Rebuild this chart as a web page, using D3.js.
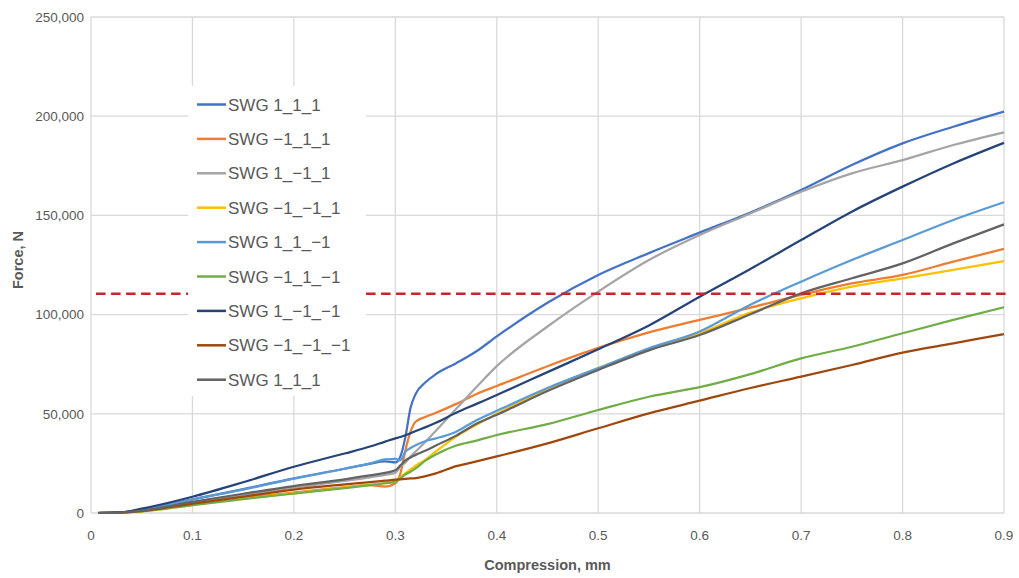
<!DOCTYPE html>
<meta charset="utf-8" />
<style>
  body { margin: 0; background: #fff; }
  svg { display: block; font-family: "Liberation Sans", Arial, sans-serif; }
  .grid line { stroke: #d9d9d9; stroke-width: 1.3px; }
  .tick-label { fill: #595959; font-size: 13.5px; }
  .axis-title { fill: #595959; font-size: 14.5px; font-weight: bold; }
  .legend text { fill: #595959; font-size: 17px; }
</style>
<body>
  <svg id="chart" width="1019" height="578"></svg>
</body>
<script src="https://d3js.org/d3.v7.min.js"></script>
<script>
  // compression values (mm) shared by every series
  const compression = [0.007, 0.03, 0.05, 0.1, 0.15, 0.2, 0.25, 0.275, 0.29, 0.3, 0.305, 0.31, 0.315, 0.32, 0.33, 0.34, 0.36, 0.38, 0.4, 0.45, 0.5, 0.55, 0.6, 0.65, 0.7, 0.75, 0.8, 0.85, 0.9];

  // force (N)
  const swg_1_1_1 = [0, 300, 1600, 6900, 12000, 17500, 22300, 24800, 26000, 25500, 28500, 38500, 53000, 60000, 66000, 70000, 75500, 81500, 89000, 106000, 120000, 131000, 141300, 151500, 162800, 175400, 186300, 194700, 202300];
  const swg_m1_1_1 = [0, 200, 1000, 4300, 7500, 10300, 13000, 14000, 13300, 15000, 20000, 31800, 41000, 46000, 48500, 50500, 55000, 60000, 64000, 74000, 83200, 91000, 97300, 103500, 109900, 115700, 120000, 126700, 133100];
  const swg_1_m1_1 = [0, 200, 1100, 5000, 8800, 12800, 16200, 18000, 19200, 20300, 23400, 25500, 28500, 31000, 36000, 41500, 52500, 63500, 74000, 94000, 111600, 127500, 140100, 151000, 161900, 171200, 177900, 185500, 191900];
  const swg_m1_m1_1 = [0, 150, 800, 4000, 7200, 10000, 12800, 14300, 15000, 15800, 18000, 20000, 22000, 23800, 27000, 31000, 38500, 44500, 50000, 62500, 73000, 82800, 90600, 101000, 108200, 114100, 118300, 122500, 127000];
  const swg_1_1_m1 = [0, 300, 1500, 6800, 11800, 17300, 22300, 25000, 27000, 27300, 26500, 31000, 32800, 34200, 36300, 37600, 41000, 46800, 51500, 63000, 73000, 83000, 91500, 105000, 116600, 127500, 137600, 147700, 156600];
  const swg_m1_1_m1 = [0, 150, 800, 4000, 7000, 9800, 12500, 14000, 15000, 15800, 17500, 19500, 20800, 22500, 26500, 29500, 34000, 36500, 39300, 44800, 51900, 58600, 63400, 70000, 77900, 83800, 90600, 97300, 103700];
  const swg_1_m1_m1 = [0, 400, 2200, 8200, 15500, 23300, 30000, 33500, 36000, 37600, 38300, 39200, 40200, 41300, 43300, 45500, 50500, 55000, 59500, 71000, 82500, 94500, 109000, 123000, 137600, 151900, 164500, 176200, 186600];
  const swg_m1_m1_m1 = [0, 200, 1000, 4700, 8200, 11800, 14400, 15600, 16300, 16800, 17000, 17200, 17400, 17600, 18600, 20000, 23600, 26000, 28500, 35100, 42700, 50200, 56600, 63000, 68700, 74600, 80800, 85500, 90200];
  const swg_1_1_1_b = [0, 250, 1200, 5600, 9700, 13600, 17000, 19000, 20200, 21500, 24000, 26500, 28000, 29300, 31500, 34000, 39000, 45000, 49500, 61500, 72100, 82000, 89700, 100200, 110700, 118300, 125800, 135900, 145500];

  const seriesNames = ["SWG 1_1_1", "SWG \u22121_1_1", "SWG 1_\u22121_1", "SWG \u22121_\u22121_1", "SWG 1_1_\u22121", "SWG \u22121_1_\u22121", "SWG 1_\u22121_\u22121", "SWG \u22121_\u22121_\u22121", "SWG 1_1_1"];
  const seriesValues = [swg_1_1_1, swg_m1_1_1, swg_1_m1_1, swg_m1_m1_1, swg_1_1_m1, swg_m1_1_m1, swg_1_m1_m1, swg_m1_m1_m1, swg_1_1_1_b];
  const seriesColors = ["#4472c4", "#ed7d31", "#a5a5a5", "#ffc000", "#5b9bd5", "#70ad47", "#264478", "#9e480e", "#636363"];

  // red dashed limit line
  const limitForce = 110500;
  const limitRange = [0.005, 0.9065];

  const xTicks = [0, 0.1, 0.2, 0.3, 0.4, 0.5, 0.6, 0.7, 0.8, 0.9];
  const yTicks = [0, 50000, 100000, 150000, 200000, 250000];

  const svg = d3.select("#chart");
  const margin = { top: 17, right: 15, bottom: 65, left: 91 };
  const width = 1019 - margin.left - margin.right;
  const height = 578 - margin.top - margin.bottom;

  const x = d3.scaleLinear().domain([0, 0.9]).range([margin.left, margin.left + width]);
  const y = d3.scaleLinear().domain([0, 250000]).range([margin.top + height, margin.top]);

  // gridlines
  const grid = svg.append("g").attr("class", "grid");
  grid.selectAll(".h").data(yTicks).join("line")
    .attr("x1", x(0)).attr("x2", x(0.9))
    .attr("y1", d => y(d)).attr("y2", d => y(d));
  grid.selectAll(".v").data(xTicks).join("line")
    .attr("x1", d => x(d)).attr("x2", d => x(d))
    .attr("y1", y(0)).attr("y2", y(250000));

  // tick labels
  svg.append("g").selectAll("text").data(yTicks).join("text")
    .attr("class", "tick-label")
    .attr("x", x(0) - 7)
    .attr("y", d => y(d))
    .attr("dy", "0.35em")
    .attr("text-anchor", "end")
    .text(d => d3.format(",")(d));

  svg.append("g").selectAll("text").data(xTicks).join("text")
    .attr("class", "tick-label")
    .attr("x", d => x(d))
    .attr("y", y(0) + 27)
    .attr("text-anchor", "middle")
    .text(d => d === 0 ? "0" : d3.format(".1f")(d));

  // axis titles
  svg.append("text")
    .attr("class", "axis-title")
    .attr("x", x(0.45))
    .attr("y", 570)
    .attr("text-anchor", "middle")
    .text("Compression, mm");

  svg.append("text")
    .attr("class", "axis-title")
    .attr("transform", `translate(23,${y(125000) - 5}) rotate(-90)`)
    .attr("text-anchor", "middle")
    .text("Force, N");

  // series lines
  const line = d3.line()
    .curve(d3.curveMonotoneX)
    .x((d, i) => x(compression[i]))
    .y(d => y(d));

  svg.append("g").selectAll("path").data(seriesValues).join("path")
    .attr("fill", "none")
    .attr("stroke", (d, i) => seriesColors[i])
    .attr("stroke-width", 2.25)
    .attr("stroke-linejoin", "round")
    .attr("d", line);

  // limit line
  svg.append("line")
    .attr("x1", x(limitRange[0])).attr("x2", x(limitRange[1]))
    .attr("y1", y(limitForce)).attr("y2", y(limitForce))
    .attr("stroke", "#cc2229")
    .attr("stroke-width", 2.5)
    .attr("stroke-dasharray", "9.5,5.5");

  // legend with white box
  const legend = svg.append("g").attr("class", "legend");
  legend.append("rect")
    .attr("x", 188).attr("y", 86)
    .attr("width", 178).attr("height", 310)
    .attr("fill", "#fff");

  const item = legend.selectAll("g.item").data(seriesNames).join("g")
    .attr("class", "item")
    .attr("transform", (d, i) => `translate(197,${104.5 + i * 34.4})`);

  item.append("line")
    .attr("x1", 0).attr("x2", 29)
    .attr("stroke", (d, i) => seriesColors[i])
    .attr("stroke-width", 2.5);

  item.append("text")
    .attr("x", 31)
    .attr("dy", "0.36em")
    .text(d => d);
</script>
